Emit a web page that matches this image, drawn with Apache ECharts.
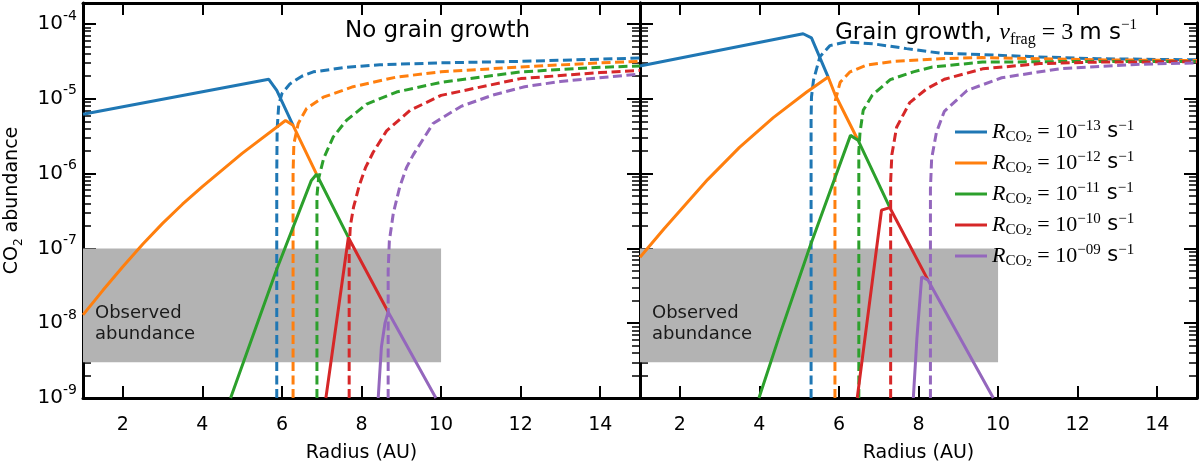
<!DOCTYPE html>
<html>
<head>
<meta charset="utf-8">
<title>CO2 abundance</title>
<script src="https://cdn.jsdelivr.net/npm/echarts@6.0.0/dist/echarts.min.js"></script>
<style>
  html, body { margin: 0; padding: 0; background: #fff; }
  #main { width: 1200px; height: 463px; }
</style>
</head>
<body>
<div id="main"></div>
<script>
// 刻度
var xTicks = [2, 4, 6, 8, 10, 12, 14];
var yTicks = [-9, -8, -7, -6, -5, -4];   // 10 的指数
var rateLabels = ['−13', '−12', '−11', '−10', '−09'];

// 观测范围 (灰色带)
var observedX = [1, 10];
var observedY = [3e-9, 1e-7];

// 左图：No grain growth，[半径 AU, 丰度]
var ngSolid13 = [[1, 6.2e-6], [5.67, 1.82e-5], [5.87, 1.29e-5], [6.28, 4.42e-6]];
var ngSolid12 = [[1, 1.29e-8], [1.5, 2.75e-8], [2, 5.69e-8], [2.5, 1.135e-7], [3, 2.16e-7], [3.5, 3.89e-7],
                 [4, 6.68e-7], [5, 1.86e-6], [6.09, 5.13e-6], [6.28, 4.42e-6], [6.87, 9.8e-7]];
var ngSolid11 = [[4.71, 1e-9], [5.86, 5.1e-8], [6.74, 8.1e-7], [6.87, 9.8e-7], [7.67, 1.4e-7]];
var ngSolid10 = [[7.105, 1e-9], [7.67, 1.4e-7], [8.67, 1.41e-8]];
var ngSolid09 = [[8.42, 1e-9], [8.5, 4.8e-9], [8.59, 1e-8], [8.67, 1.41e-8], [9.87, 1e-9]];

var ngDash13 = [[5.87, 1e-9], [5.87, 1e-6], [5.88, 3.98e-6], [5.92, 8.3e-6], [6.0, 1.17e-5], [6.2, 1.58e-5],
                [6.5, 2.0e-5], [6.79, 2.29e-5], [7.62, 2.63e-5], [8.46, 2.85e-5], [10, 3.02e-5], [12, 3.16e-5],
                [14, 3.39e-5], [15, 3.5e-5]];
var ngDash12 = [[6.28, 1e-9], [6.28, 1e-6], [6.30, 2.51e-6], [6.41, 4.68e-6], [6.62, 7.41e-6], [7.04, 1.05e-5],
                [7.79, 1.45e-5], [8.88, 1.95e-5], [10, 2.29e-5], [12, 2.66e-5], [14, 3.02e-5], [15, 3.16e-5]];
var ngDash11 = [[6.88, 1e-9], [6.88, 5e-7], [6.92, 8.5e-7], [7.05, 1.6e-6], [7.29, 3.09e-6], [7.62, 5.13e-6],
                [8.13, 8.5e-6], [8.88, 1.23e-5], [10, 1.66e-5], [12, 2.29e-5], [14, 2.63e-5], [15, 2.75e-5]];
var ngDash10 = [[7.69, 1e-9], [7.69, 1e-7], [7.72, 2.0e-7], [7.8, 3.55e-7], [7.95, 7.1e-7], [8.1, 1.2e-6],
                [8.29, 1.91e-6], [8.63, 3.72e-6], [9.22, 7.0e-6], [10, 1.11e-5], [12, 1.86e-5], [14, 2.24e-5],
                [15, 2.4e-5]];
var ngDash09 = [[8.67, 1e-9], [8.67, 5e-8], [8.70, 1.26e-7], [8.8, 2.95e-7], [8.96, 6.6e-7], [9.13, 1.2e-6],
                [9.3, 1.78e-6], [9.8, 4.68e-6], [10.5, 7.9e-6], [11.3, 1.12e-5], [12.1, 1.45e-5], [13, 1.7e-5],
                [14.4, 2.0e-5], [15, 2.14e-5]];

// 右图：Grain growth
var ggSolid13 = [[1, 2.74e-5], [5.10, 7.4e-5], [5.31, 6.5e-5], [5.73, 1.95e-5]];
var ggSolid12 = [[1, 7.6e-8], [1.6, 1.82e-7], [2.15, 3.9e-7], [2.7, 8.3e-7], [3.5, 2.24e-6], [4.35, 5.6e-6],
                 [5.19, 1.23e-5], [5.73, 1.95e-5], [5.90, 1.15e-5], [6.48, 2.79e-6]];
var ggSolid11 = [[3.99, 1e-9], [4.52, 7.2e-9], [5.27, 1.05e-7], [6.29, 3.24e-6], [6.48, 2.79e-6], [7.28, 3.5e-7]];
var ggSolid10 = [[6.46, 1e-9], [7.07, 3.24e-7], [7.28, 3.5e-7], [8.24, 3.76e-8]];
var ggSolid09 = [[7.87, 1e-9], [7.96, 6.3e-9], [8.08, 4.17e-8], [8.24, 3.76e-8], [9.88, 1e-9]];

var ggDash13 = [[5.30, 1e-9], [5.30, 5e-6], [5.31, 1.05e-5], [5.36, 1.76e-5], [5.52, 3.63e-5], [5.77, 5.13e-5],
                [6.19, 5.75e-5], [6.86, 5.43e-5], [7.70, 4.68e-5], [8.54, 4.07e-5], [9.6, 3.89e-5], [11, 3.63e-5],
                [12.5, 3.43e-5], [15, 3.31e-5]];
var ggDash12 = [[5.90, 1e-9], [5.90, 5e-6], [5.91, 9.5e-6], [6.03, 1.66e-5], [6.28, 2.29e-5], [6.70, 2.82e-5],
                [7.37, 3.16e-5], [8.54, 3.43e-5], [9.6, 3.55e-5], [12.5, 3.31e-5], [15, 3.24e-5]];
var ggDash11 = [[6.50, 1e-9], [6.50, 2e-6], [6.53, 3.55e-6], [6.61, 7.0e-6], [6.84, 1.12e-5], [7.29, 1.8e-5],
                [7.87, 2.29e-5], [8.35, 2.66e-5], [9.61, 3.09e-5], [12.5, 3.16e-5], [15, 3.16e-5]];
var ggDash10 = [[7.30, 1e-9], [7.30, 7.9e-7], [7.33, 1.78e-6], [7.45, 4.17e-6], [7.78, 8.9e-6], [8.2, 1.35e-5],
                [8.65, 1.82e-5], [9.61, 2.51e-5], [11.05, 2.95e-5], [12.5, 3.09e-5], [15, 3.13e-5]];
var ggDash09 = [[8.30, 1e-9], [8.30, 6.3e-7], [8.33, 1.58e-6], [8.45, 3.55e-6], [8.65, 6.8e-6], [9.22, 1.29e-5],
                [10.09, 1.91e-5], [11.53, 2.51e-5], [13.46, 2.88e-5], [15, 3.02e-5]];

var colors = ['#1f77b4', '#ff7f0e', '#2ca02c', '#d62728', '#9467bd'];
var panels = [
  { solid: [ngSolid13, ngSolid12, ngSolid11, ngSolid10, ngSolid09],
    dash:  [ngDash13, ngDash12, ngDash11, ngDash10, ngDash09] },
  { solid: [ggSolid13, ggSolid12, ggSolid11, ggSolid10, ggSolid09],
    dash:  [ggDash13, ggDash12, ggDash11, ggDash10, ggDash09] }
];

var yMin = -9, yMax = -3.72;
var sans = 'DejaVu Sans', serif = 'Liberation Serif';

function toLog(pts) {
  return pts.map(function (p) { return [p[0], Math.log10(p[1])]; });
}

// 对数副刻度 (2..9)
var minorTicks = [];
yTicks.forEach(function (n) {
  for (var k = 2; k <= 9; k++) {
    var v = n + Math.log10(k);
    if (v < yMax) minorTicks.push(v);
  }
});

var axisLine = { show: true, onZero: false, lineStyle: { color: '#000', width: 3 } };

function xAx(gi, pos) {
  return {
    type: 'value', gridIndex: gi, position: pos, min: 1, max: 15,
    axisLine: axisLine,
    axisTick: { inside: true, length: 12, customValues: xTicks, lineStyle: { width: 2, color: '#000' } },
    axisLabel: { show: pos === 'bottom', customValues: xTicks, margin: 18,
                 fontSize: 19, fontFamily: sans, color: '#000' },
    splitLine: { show: false },
    name: pos === 'bottom' ? 'Radius (AU)' : '',
    nameLocation: 'middle', nameGap: 46,
    nameTextStyle: { fontSize: 19, fontFamily: sans, color: '#000' }
  };
}

function yAx(gi, pos, labels) {
  var ax = {
    type: 'value', gridIndex: gi, position: pos, min: yMin, max: yMax,
    axisLine: axisLine,
    axisTick: { inside: true, length: 13, customValues: yTicks, lineStyle: { width: 2, color: '#000' } },
    axisLabel: {
      show: labels, customValues: yTicks, margin: 6,
      formatter: function (v) { return '{b|10}{e|' + v + '}'; },
      rich: {
        b: { fontSize: 20, fontFamily: sans, color: '#000', lineHeight: 30 },
        e: { fontSize: 14, fontFamily: sans, color: '#000', lineHeight: 14, verticalAlign: 'top' }
      }
    },
    splitLine: { show: false }
  };
  if (labels) {
    ax.name = '{a|CO}{s|2}{a| abundance}';
    ax.nameLocation = 'middle';
    ax.nameGap = 58;
    ax.nameTextStyle = {
      rich: {
        a: { fontSize: 19, fontFamily: sans, color: '#000', lineHeight: 26 },
        s: { fontSize: 12, fontFamily: sans, color: '#000', lineHeight: 12, verticalAlign: 'bottom' }
      }
    };
  }
  return ax;
}

// 只画副刻度的轴
function yMinorAx(gi, pos) {
  return {
    type: 'value', gridIndex: gi, position: pos, min: yMin, max: yMax,
    axisLine: { show: false },
    axisTick: { show: true, inside: true, length: 8, customValues: minorTicks,
                lineStyle: { width: 1.5, color: '#000' } },
    axisLabel: { show: false },
    splitLine: { show: false }
  };
}

var series = [];
panels.forEach(function (pn, gi) {
  // 灰色观测带
  series.push({
    type: 'line', xAxisIndex: gi * 2, yAxisIndex: gi * 2, data: [], silent: true, z: 1,
    markArea: {
      silent: true,
      itemStyle: { color: '#b3b3b3', opacity: 1 },
      label: {
        show: true, position: 'insideLeft', distance: 12, offset: [0, 18],
        formatter: 'Observed\nabundance',
        fontSize: 18, lineHeight: 21, fontFamily: sans, color: '#1a1a1a'
      },
      data: [[{ coord: [observedX[0], Math.log10(observedY[0])] },
              { coord: [observedX[1], Math.log10(observedY[1])] }]]
    }
  });
  for (var i = 0; i < 5; i++) {
    var nm = gi === 1 ? rateLabels[i] : 'ng' + rateLabels[i];
    series.push({
      name: nm, type: 'line', xAxisIndex: gi * 2, yAxisIndex: gi * 2,
      data: toLog(pn.solid[i]), symbol: 'none', showSymbol: false, silent: true, z: 3,
      lineStyle: { color: colors[i], width: 3 }, itemStyle: { color: colors[i] }
    });
    series.push({
      name: 'ice' + gi + rateLabels[i], type: 'line', xAxisIndex: gi * 2, yAxisIndex: gi * 2,
      data: toLog(pn.dash[i]), symbol: 'none', showSymbol: false, silent: true, z: 3,
      lineStyle: { color: colors[i], width: 3, type: [9, 4.5] }, itemStyle: { color: colors[i] }
    });
  }
});

var mathRich = {
  r: { fontFamily: serif, fontStyle: 'italic', fontWeight: 'normal', fontSize: 22, lineHeight: 26, color: '#000' },
  c: { fontFamily: serif, fontWeight: 'normal', fontSize: 15, lineHeight: 13, verticalAlign: 'bottom', color: '#000' },
  d: { fontFamily: serif, fontWeight: 'normal', fontSize: 11, lineHeight: 9, verticalAlign: 'bottom', color: '#000' },
  m: { fontFamily: serif, fontWeight: 'normal', fontSize: 22, lineHeight: 26, color: '#000' },
  s: { fontFamily: sans, fontWeight: 'normal', fontSize: 21, lineHeight: 26, color: '#000' },
  e: { fontFamily: serif, fontWeight: 'normal', fontSize: 15, lineHeight: 14, verticalAlign: 'top', color: '#000' },
  t: { fontFamily: sans, fontWeight: 'normal', fontSize: 23, lineHeight: 30, color: '#000' },
  v: { fontFamily: serif, fontStyle: 'italic', fontWeight: 'normal', fontSize: 24, lineHeight: 30, color: '#000' },
  f: { fontFamily: serif, fontWeight: 'normal', fontSize: 16, lineHeight: 14, verticalAlign: 'bottom', color: '#000' },
  n: { fontFamily: serif, fontWeight: 'normal', fontSize: 24, lineHeight: 30, color: '#000' }
};

var myChart = echarts.init(document.getElementById('main'), null, { renderer: 'canvas' });

var option = {
  animation: false,
  backgroundColor: '#fff',
  title: [
    { text: 'No grain growth', left: 345, top: 20, padding: 0,
      textStyle: { fontSize: 23, fontWeight: 'normal', fontFamily: sans, color: '#000' } },
    { text: '{t|Grain growth, }{v|v}{f|frag}{n| = 3 }{t|m s}{e|−1}', left: 835, top: 18, padding: 0,
      textStyle: { fontWeight: 'normal', rich: mathRich } }
  ],
  legend: {
    data: rateLabels,
    orient: 'vertical', left: 955, top: 119, padding: 0,
    itemWidth: 32, itemHeight: 3, itemGap: 5, icon: 'rect',
    formatter: function (name) {
      return '{r|R}{c|CO}{d|2}{m| = 10}{e|' + name + '}{s| s}{e|−1}';
    },
    textStyle: { fontWeight: 'normal', rich: mathRich }
  },
  grid: [
    { left: 83, right: 560, top: 3, bottom: 65, outerBoundsMode: 'none' },
    { left: 640, right: 3, top: 3, bottom: 65, outerBoundsMode: 'none' }
  ],
  xAxis: [xAx(0, 'bottom'), xAx(0, 'top'), xAx(1, 'bottom'), xAx(1, 'top')],
  yAxis: [
    yAx(0, 'left', true), yAx(0, 'right', false), yAx(1, 'left', false), yAx(1, 'right', false),
    yMinorAx(0, 'left'), yMinorAx(0, 'right'), yMinorAx(1, 'left'), yMinorAx(1, 'right')
  ],
  series: series
};

myChart.setOption(option);
</script>
</body>
</html>
